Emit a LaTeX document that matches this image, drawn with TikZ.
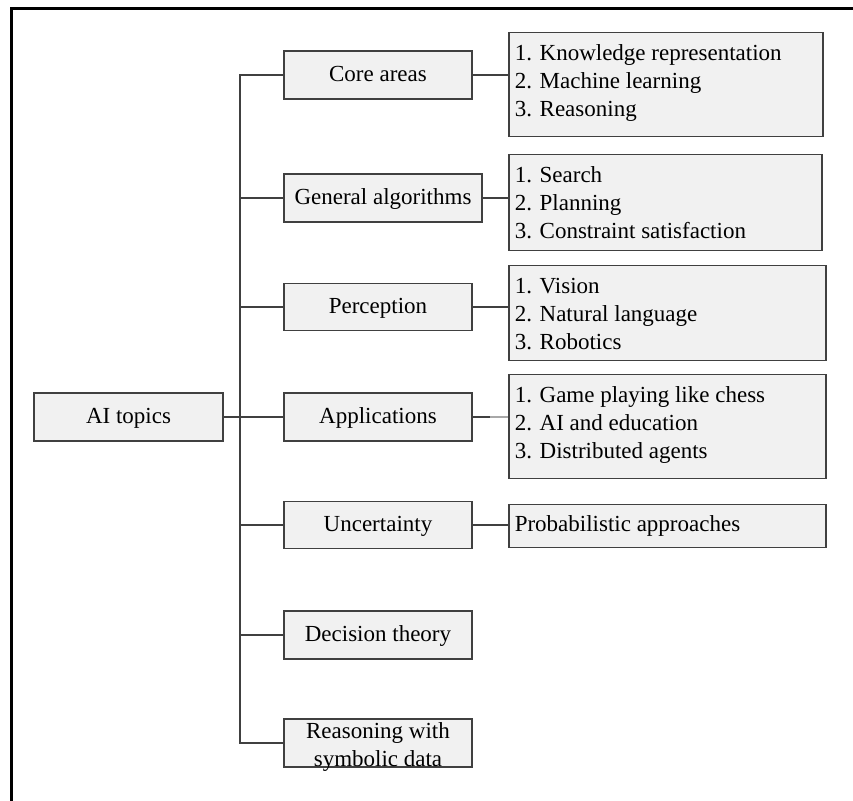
\documentclass[tikz,border=0pt]{standalone}
\usepackage{fontspec}
\setmainfont{Liberation Serif}
\usetikzlibrary{calc}
\definecolor{boxfill}{HTML}{F1F1F1}
\definecolor{edge}{HTML}{404040}
\definecolor{faint}{HTML}{A8A8A8}
\newcommand\boxfont{\fontsize{11.5}{14}\selectfont}
% fixed-size box whose lines start at the top left
\newcommand\boxlines[3]{\parbox[c][#2][t]{#1}{\raggedright\leftskip=3pt\rule{0pt}{14pt}#3}}
\tikzset{
  topic/.style={draw=edge, fill=boxfill, line width=0.75pt, inner sep=0pt,
    minimum width=94pt, minimum height=24pt, font=\boxfont,
    text height=7.5pt, text depth=0.5pt},
  listbox/.style={draw=edge, fill=boxfill, line width=0.75pt, inner sep=0pt,
    anchor=north west, font=\boxfont},
  link/.style={draw=edge, line width=0.75pt},
}
\begin{document}
\begin{tikzpicture}[x=0.5pt, y=-0.5pt]
\useasboundingbox (0,0) rectangle (853,801);
% page frame
\draw[line width=1.35pt, line cap=rect] (11.7,801) -- (11.7,8.7) -- (853,8.7);

% root and topics
\node[topic, minimum width=94.5pt] (root) at (128.5,417) {AI topics};
\node[topic] (core) at (378,75) {Core areas};
\node[topic, minimum width=99pt] (alg) at (383,198) {General algorithms};
\node[topic, minimum height=23.5pt] (perc) at (378,307) {Perception};
\node[topic] (app) at (378,417) {Applications};
\node[topic, minimum height=23.5pt] (unc) at (378,525) {Uncertainty};
\node[topic] (dec) at (378,635) {Decision theory};
\node[topic] (sym) at (378,743)
  {\smash{\raisebox{-1.5pt}{\begin{tabular}{@{}c@{}}Reasoning with\\symbolic data\end{tabular}}}};

% detail lists
\node[listbox] (corelist) at (508,32)
  {\boxlines{157pt}{52pt}{1. Knowledge representation\\2. Machine learning\\3. Reasoning}};
\node[listbox] (alglist) at (508,154)
  {\boxlines{156.5pt}{48pt}{1. Search\\2. Planning\\3. Constraint satisfaction}};
\node[listbox] (perclist) at (508,265)
  {\boxlines{158.5pt}{47.5pt}{1. Vision\\2. Natural language\\3. Robotics}};
\node[listbox] (applist) at (508,374)
  {\boxlines{158.5pt}{52pt}{1. Game playing like chess\\2. AI and education\\3. Distributed agents}};
\node[listbox] (unclist) at (508,504)
  {\parbox[c][21.5pt][t]{158.5pt}{\leftskip=3pt\rule{0pt}{13.5pt}Probabilistic approaches}};

% tree trunk and branches
\coordinate (tr) at (240,0);
\draw[link] (core.west) -| (tr |- sym.west) -- (sym.west);
\draw[link] (root.east) -- (tr |- root.east);
\foreach \n in {alg, perc, app, unc, dec}
  \draw[link] (\n.west) -- (tr |- \n.west);

% topic to list connectors
\draw[link] (core.east) -- (core.east -| corelist.west);
\draw[link] (alg.east) -- (alg.east -| alglist.west);
\draw[link] (perc.east) -- (perc.east -| perclist.west);
\coordinate (appmid) at ($(app.east)!0.5!(app.east -| applist.west)$);
\draw[link] (app.east) -- (appmid);
\draw[link, draw=faint] (appmid) -- (app.east -| applist.west);
\draw[link] (unc.east) -- (unc.east -| unclist.west);
\end{tikzpicture}
\end{document}
